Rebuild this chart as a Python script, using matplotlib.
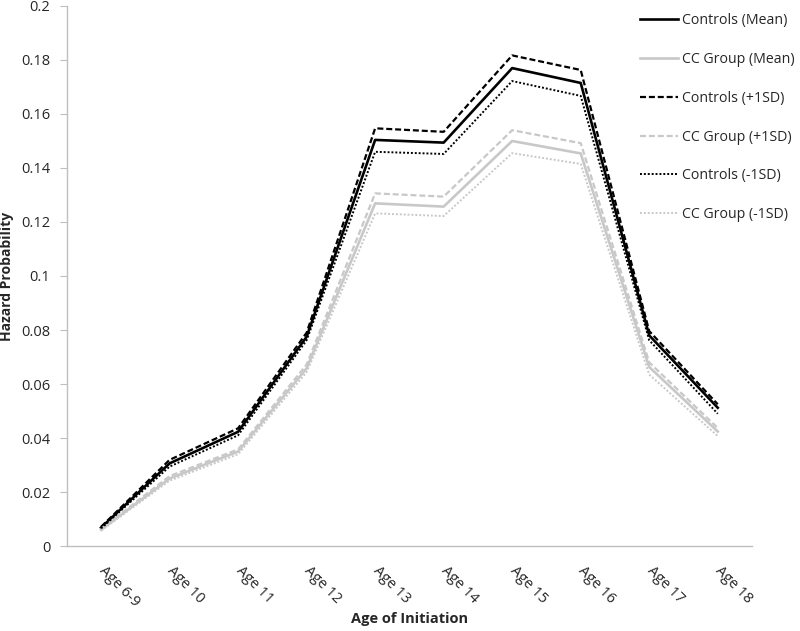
import matplotlib.pyplot as plt

# ages and hazard probabilities
ages = ["Age 6-9", "Age 10", "Age 11", "Age 12", "Age 13",
        "Age 14", "Age 15", "Age 16", "Age 17", "Age 18"]

controls_mean = [0.0068, 0.0306, 0.0423, 0.0775, 0.1504, 0.1494, 0.1770, 0.1715, 0.0780, 0.0512]
cc_mean = [0.0060, 0.0250, 0.0350, 0.0658, 0.1269, 0.1257, 0.1500, 0.1454, 0.0663, 0.0424]
controls_plus = [0.0071, 0.0319, 0.0436, 0.0790, 0.1547, 0.1534, 0.1817, 0.1763, 0.0796, 0.0525]
cc_plus = [0.0063, 0.0259, 0.0358, 0.0672, 0.1306, 0.1294, 0.1540, 0.1492, 0.0680, 0.0437]
controls_minus = [0.0065, 0.0294, 0.0410, 0.0762, 0.1460, 0.1452, 0.1722, 0.1667, 0.0762, 0.0490]
cc_minus = [0.0057, 0.0242, 0.0340, 0.0644, 0.1232, 0.1222, 0.1455, 0.1415, 0.0635, 0.0407]

plt.rcParams['font.family'] = ['Open Sans', 'DejaVu Sans']

gray = "#c8c8c8"
txt = "#262626"
x = range(len(ages))

fig = plt.figure(figsize=(8, 6.31), dpi=100)
ax = fig.add_axes([0.0835, 0.1347, 0.8565, 0.8558])

ax.plot(x, controls_mean, color="black", lw=1.9, label="Controls (Mean)")
ax.plot(x, cc_mean, color=gray, lw=1.9, label="CC Group (Mean)")
ax.plot(x, controls_plus, color="black", lw=1.6, dashes=(2.7, 1.3), label="Controls (+1SD)")
ax.plot(x, cc_plus, color=gray, lw=1.6, dashes=(2.7, 1.3), label="CC Group (+1SD)")
ax.plot(x, controls_minus, color="black", lw=1.4, dashes=(1, 1), label="Controls (-1SD)")
ax.plot(x, cc_minus, color=gray, lw=1.4, dashes=(1, 1), label="CC Group (-1SD)")

ax.set_xlim(-0.5, len(ages) - 0.5)
ax.set_ylim(0, 0.2)
ax.set_yticks([0, 0.02, 0.04, 0.06, 0.08, 0.1, 0.12, 0.14, 0.16, 0.18, 0.2])
ax.set_yticklabels(["0", "0.02", "0.04", "0.06", "0.08", "0.1", "0.12",
                    "0.14", "0.16", "0.18", "0.2"])
ax.set_xticks(list(x))
ax.set_xticklabels(ages, rotation=-45, ha="left", va="center", rotation_mode="anchor")

ax.tick_params(axis="y", length=5, color="#bfbfbf", labelsize=10.5, labelcolor=txt, pad=7)
ax.tick_params(axis="x", length=0, labelsize=10.5, labelcolor=txt, pad=16)

for side in ["top", "right"]:
    ax.spines[side].set_visible(False)
for side in ["left", "bottom"]:
    ax.spines[side].set_color("#bfbfbf")
    ax.spines[side].set_linewidth(1)

ax.set_ylabel("Hazard Probability", fontsize=10, fontweight="bold", color=txt, labelpad=5)
ax.set_xlabel("Age of Initiation", fontsize=10.5, fontweight="bold", color=txt, labelpad=2)

fig.legend(loc="upper left", bbox_to_anchor=(0.8, 0.979), frameon=False,
           fontsize=10.2, handlelength=2.65, handletextpad=0.35,
           labelspacing=1.68, borderpad=0, borderaxespad=0, labelcolor=txt)

fig.savefig("out.png", dpi=100)
